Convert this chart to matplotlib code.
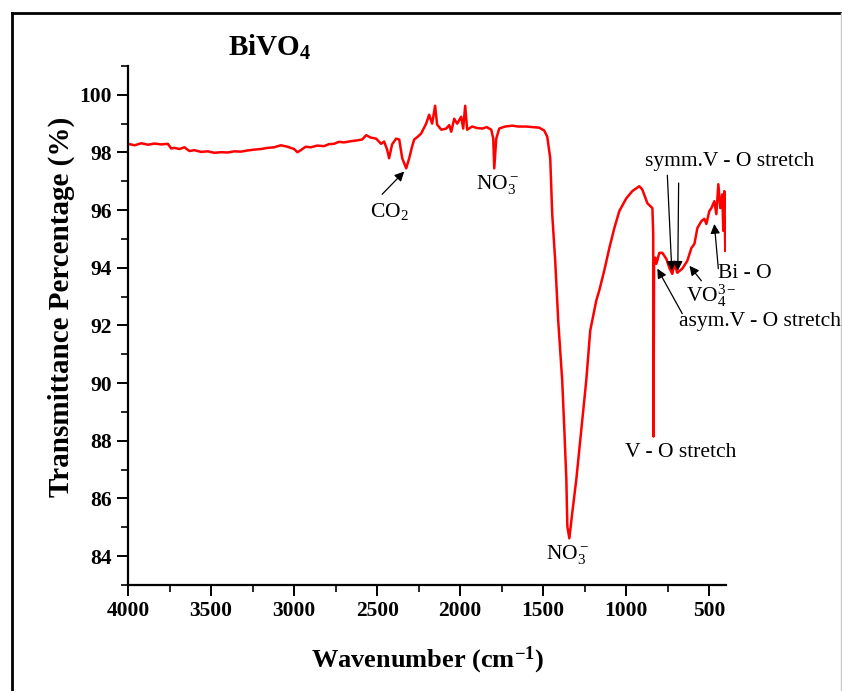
#!/usr/bin/env python
# -*- coding: utf-8 -*-

import matplotlib
matplotlib.use('Agg')
import matplotlib.pyplot as plt
import matplotlib.ticker as mt
from matplotlib.lines import Line2D

# FTIR spectrum of BiVO4 (wavenumber in cm-1, transmittance in %)
wavenumber = [
    4000, 3960, 3920, 3880, 3840, 3800, 3760, 3740, 3720, 3690,
    3660, 3630, 3600, 3560, 3520, 3480, 3440, 3400, 3360, 3320,
    3280, 3240, 3200, 3160, 3120, 3080, 3040, 3000, 2980, 2960,
    2930, 2900, 2860, 2820, 2790, 2760, 2730, 2700, 2660, 2620,
    2590, 2566, 2540, 2506, 2476, 2458, 2440, 2428, 2410, 2386,
    2367, 2349, 2325, 2307, 2290, 2277, 2255, 2235, 2205, 2187,
    2169, 2151, 2139, 2114, 2084, 2066, 2054, 2036, 2018, 1994,
    1982, 1970, 1958, 1928, 1900, 1867, 1840, 1813, 1801, 1795,
    1783, 1765, 1730, 1687, 1650, 1602, 1560, 1524, 1494, 1476,
    1458, 1446, 1428, 1410, 1386, 1373, 1361, 1355, 1343, 1325,
    1301, 1271, 1241, 1217, 1181, 1163, 1133, 1102, 1072, 1042,
    1000, 964, 922, 904, 873, 843, 838, 836, 833, 825,
    819, 801, 783, 759, 741, 723, 711, 693, 663, 633,
    608, 590, 572, 548, 530, 518, 500, 488, 470, 458,
    446, 434, 422, 416, 410, 404,
]
transmittance = [
    98.30, 98.25, 98.32, 98.27, 98.31, 98.28, 98.30, 98.14, 98.16, 98.12,
    98.18, 98.05, 98.08, 98.02, 98.04, 97.99, 98.01, 98.00, 98.04, 98.03,
    98.07, 98.10, 98.12, 98.16, 98.18, 98.25, 98.20, 98.12, 98.01, 98.08,
    98.20, 98.18, 98.24, 98.22, 98.29, 98.30, 98.37, 98.35, 98.39, 98.42,
    98.45, 98.60, 98.52, 98.48, 98.30, 98.38, 98.10, 97.80, 98.28, 98.48,
    98.45, 97.80, 97.45, 97.80, 98.20, 98.45, 98.55, 98.66, 99.00, 99.31,
    99.00, 99.62, 98.97, 98.79, 98.83, 98.95, 98.72, 99.17, 99.00, 99.24,
    98.83, 99.62, 98.79, 98.90, 98.85, 98.83, 98.88, 98.79, 98.48, 97.45,
    98.48, 98.83, 98.90, 98.93, 98.90, 98.90, 98.88, 98.86, 98.76, 98.55,
    97.80, 95.86, 94.24, 92.17, 90.10, 88.38, 86.66, 85.03, 84.62, 85.52,
    86.66, 88.38, 90.10, 91.83, 92.86, 93.21, 93.90, 94.69, 95.38, 95.97,
    96.41, 96.66, 96.83, 96.72, 96.24, 96.07, 95.17, 88.15, 94.10, 94.35,
    94.14, 94.52, 94.52, 94.31, 94.00, 93.79, 94.14, 93.83, 93.97, 94.24,
    94.69, 94.83, 95.38, 95.62, 95.70, 95.52, 95.97, 96.07, 96.31, 95.86,
    96.90, 96.07, 96.55, 95.28, 96.66, 94.59,
]

# band labels: (text, wavenumber, transmittance)
labels = [
    (r'$\mathrm{CO_2}$', 2428, 95.95),
    (r'$\mathrm{NO_3^-}$', 1775, 96.9),
    (r'$\mathrm{NO_3^-}$', 1355, 84.05),
    ('V - O stretch', 675, 87.6),
    ('symm.V - O stretch', 380, 97.7),
    ('Bi - O', 289, 93.8),
    (r'$\mathrm{VO_4^{3-}}$', 488, 93.05),
    ('asym.V - O stretch', 193, 92.15),
]

# arrows: (tail, head)
arrows = [
    ((2470, 96.55), (2337, 97.34)),
    ((753, 97.21), (726, 93.9)),
    ((685, 96.94), (690, 93.9)),
    ((446, 93.97), (470, 95.52)),
    ((548, 93.55), (620, 94.07)),
    ((663, 92.41), (813, 93.97)),
]


def main():
    plt.rcParams['font.family'] = 'Liberation Serif'
    plt.rcParams['mathtext.fontset'] = 'custom'
    plt.rcParams['mathtext.rm'] = 'Liberation Serif'
    plt.rcParams['mathtext.bf'] = 'Liberation Serif:bold'
    plt.rcParams['mathtext.it'] = 'Liberation Serif:italic'

    fig = plt.figure(figsize=(8.42, 6.91), dpi=100)
    ax = fig.add_axes([0.152, 0.1534, 0.7102, 0.7511])
    ax.plot(wavenumber, transmittance, color='#ff0000', lw=1.8)

    # range
    ax.set_xlim(4000, 400)
    ax.set_ylim(83.0, 101.0)

    # axes look
    for s in ('top', 'right'):
        ax.spines[s].set_visible(False)
    for s in ('left', 'bottom'):
        ax.spines[s].set_linewidth(1.6)
    ax.xaxis.set_major_locator(mt.FixedLocator([4000, 3500, 3000, 2500, 2000, 1500, 1000, 500]))
    ax.xaxis.set_minor_locator(mt.MultipleLocator(250))
    ax.yaxis.set_major_locator(mt.MultipleLocator(2))
    ax.yaxis.set_minor_locator(mt.MultipleLocator(1))
    ax.tick_params(which='major', direction='out', length=8, width=1.4,
                   labelsize=15.5)
    ax.tick_params(which='minor', direction='out', length=5, width=1.2)
    for t in ax.get_xticklabels() + ax.get_yticklabels():
        t.set_fontweight('bold')

    # band labels
    for txt, x, y in labels:
        ax.text(x, y, txt, fontsize=15.5, ha='center', va='center',
                clip_on=False)
    for tail, head in arrows:
        ax.annotate('', xy=head, xytext=tail, annotation_clip=False,
                    arrowprops=dict(arrowstyle='-|>', color='black', lw=0.9,
                                    mutation_scale=14, shrinkA=0, shrinkB=0))

    # title and axis labels
    fig.text(270 / 842, 1 - 47 / 691, r'BiVO$_\mathbf{4}$', fontsize=21,
             fontweight='bold', ha='center', va='center')
    fig.text(61 / 842, 1 - 307 / 691, 'Transmittance Percentage (%)',
             fontsize=21, fontweight='bold', rotation=90,
             ha='center', va='center')
    fig.text(428 / 842, 1 - 660 / 691, r'Wavenumber (cm$^{\mathbf{-1}}$)',
             fontsize=19, fontweight='bold', ha='center', va='center')

    # page frame
    fig.add_artist(Line2D([12 / 842, 12 / 842], [0, 1 - 13 / 691],
                          transform=fig.transFigure, color='black', lw=2))
    fig.add_artist(Line2D([12 / 842, 1], [1 - 13 / 691, 1 - 13 / 691],
                          transform=fig.transFigure, color='black', lw=2))
    fig.add_artist(Line2D([841 / 842, 841 / 842], [0, 1 - 13 / 691],
                          transform=fig.transFigure, color='#c8c8c8', lw=1))

    plt.savefig('out.png', dpi=100)


if __name__ == '__main__':
    main()
